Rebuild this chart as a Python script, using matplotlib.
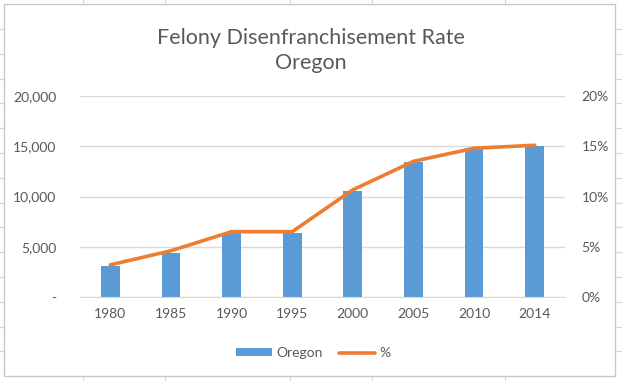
import numpy as np
import matplotlib.pyplot as plt
import matplotlib as mpl
from matplotlib.patches import Rectangle
from matplotlib.lines import Line2D
from matplotlib.ticker import FuncFormatter

mpl.rcParams['font.family'] = ['Lato', 'DejaVu Sans']

# data
years = ['1980', '1985', '1990', '1995', '2000', '2005', '2010', '2014']
oregon = [3100, 4400, 6400, 6400, 10500, 13450, 14800, 15000]
pct = [0.032, 0.046, 0.065, 0.065, 0.1066, 0.135, 0.148, 0.151]

blue = '#5B9BD5'
orange = '#ED7D31'
txt = '#595959'
grid = '#D9D9D9'

W, H = 622, 381
fig = plt.figure(figsize=(W / 100, H / 100), dpi=100)

def fx(px):
    return px / W

def fy(py):
    return 1 - py / H

# spreadsheet cell lines peeking out around the chart
for y in np.arange(29, 376, 24.8):
    fig.add_artist(Line2D([0, fx(4)], [fy(y), fy(y)], color='#D4D4D4', lw=0.8))
    fig.add_artist(Line2D([fx(616), 1], [fy(y), fy(y)], color='#D4D4D4', lw=0.8))
for x in [83, 165, 290, 372, 505]:
    fig.add_artist(Line2D([fx(x), fx(x)], [1, fy(4)], color='#D4D4D4', lw=0.8))
    fig.add_artist(Line2D([fx(x), fx(x)], [fy(377), 0], color='#D4D4D4', lw=0.8))

# chart area border
fig.add_artist(Rectangle((fx(4), fy(376)), fx(611), 372 / H, transform=fig.transFigure,
                         facecolor='white', edgecolor='#C8C8C8', lw=1.0, zorder=0))

ax = fig.add_axes([fx(80), fy(297), fx(485), 201 / H])
ax2 = ax.twinx()

x = np.arange(len(years))
ax.bar(x, oregon, width=0.31, color=blue, label='Oregon', zorder=2)
ax2.plot(x, pct, color=orange, lw=2.6, solid_capstyle='round',
         solid_joinstyle='round', label='%', zorder=3)

ax.set_xlim(-0.5, len(years) - 0.5)
ax.set_ylim(0, 20000)
ax.set_yticks(np.arange(0, 20001, 5000))
ax.yaxis.set_major_formatter(FuncFormatter(lambda v, p: '-' if v == 0 else f'{int(v):,}'))
ax2.set_ylim(0, 0.20)
ax2.set_yticks(np.arange(0, 0.201, 0.05))
ax2.yaxis.set_major_formatter(FuncFormatter(lambda v, p: f'{v * 100:.0f}%'))

ax.set_xticks(x)
ax.set_xticklabels(years)

ax.grid(axis='y', color=grid, lw=1.0, zorder=0)
ax.set_axisbelow(True)
for a in (ax, ax2):
    for s in a.spines.values():
        s.set_visible(False)
    a.tick_params(length=0, colors=txt, labelsize=10)
    a.patch.set_visible(False)
ax.spines['bottom'].set_visible(True)
ax.spines['bottom'].set_color(grid)
ax.tick_params(axis='y', pad=17)
ax2.tick_params(axis='y', pad=12)
ax.tick_params(axis='x', pad=8)

fig.text(0.5, fy(38), 'Felony Disenfranchisement Rate', ha='center', va='center',
         fontsize=15.5, color=txt)
fig.text(0.5, fy(63), 'Oregon', ha='center', va='center', fontsize=15.5, color=txt)

h1, l1 = ax.get_legend_handles_labels()
h2, l2 = ax2.get_legend_handles_labels()
fig.legend(h1 + h2, l1 + l2, loc='center', bbox_to_anchor=(fx(313), fy(353)), ncol=2,
           frameon=False, fontsize=10, labelcolor=txt, handlelength=2.6,
           handleheight=0.5, handletextpad=0.3, columnspacing=1.2)

fig.savefig('out.png', dpi=100)
